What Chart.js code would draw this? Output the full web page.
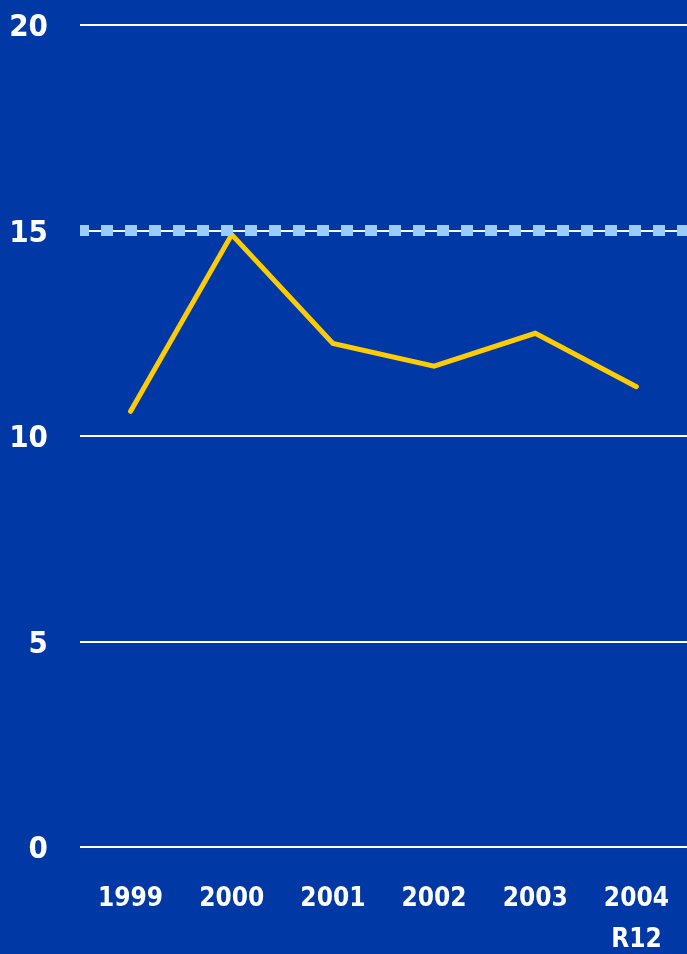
<!DOCTYPE html>
<html>
<head>
<meta charset="utf-8">
<script src="https://cdn.jsdelivr.net/npm/chart.js@4/dist/chart.umd.min.js"></script>
<style>
  html, body { margin: 0; padding: 0; background: #0039a6; }
  canvas { display: block; }
</style>
</head>
<body>
<canvas id="chart" width="687" height="954"></canvas>
<script>
// data
const years = ['1999', '2000', '2001', '2002', '2003', '2004'];
const subLabels = ['', '', '', '', '', 'R12'];
const values = [10.6, 14.9, 12.25, 11.7, 12.5, 11.2];
const targetValue = 15;
const yTicks = [0, 5, 10, 15, 20];

const labels = years.map((y, i) => subLabels[i] ? [y, subLabels[i]] : y);
const fontFamily = '"DejaVu Sans Condensed", "Liberation Sans Narrow", "Liberation Sans", Arial';

const ctx = document.getElementById('chart').getContext('2d');

new Chart(ctx, {
  type: 'line',
  data: {
    labels: labels,
    datasets: [
      {
        // target line, spans the whole plot width on its own hidden axis
        label: 'Target',
        data: [targetValue, targetValue],
        xAxisID: 'x2',
        borderColor: '#99ccff',
        borderWidth: 11,
        borderDash: [12, 12],
        borderDashOffset: 3,
        borderCapStyle: 'butt',
        pointRadius: 0,
        fill: false,
      },
      {
        label: 'Value',
        data: values,
        xAxisID: 'x',
        borderColor: '#ffcc00',
        borderWidth: 5,
        borderCapStyle: 'round',
        borderJoinStyle: 'miter',
        pointRadius: 0,
        tension: 0,
        fill: false,
      },
    ],
  },
  options: {
    responsive: false,
    devicePixelRatio: 1,
    animation: false,
    layout: { padding: { top: 25, right: 0, bottom: 0, left: 0 } },
    plugins: { legend: { display: false }, tooltip: { enabled: false } },
    scales: {
      x: {
        type: 'category',
        offset: true,
        grid: { display: false, drawTicks: false },
        border: { display: false },
        ticks: {
          color: '#ffffff',
          font: { family: fontFamily, size: 26, weight: 'bold', lineHeight: 1.6 },
          padding: 31,
          maxRotation: 0,
          autoSkip: false,
        },
        afterFit: (axis) => {
          axis.height = 107;
          axis.paddingLeft = 0;
          axis.paddingRight = 0;
        },
      },
      x2: {
        type: 'category',
        labels: ['a', 'b'],
        offset: false,
        display: false,
      },
      y: {
        min: 0,
        max: 20,
        afterBuildTicks: (axis) => { axis.ticks = yTicks.map(v => ({ value: v })); },
        grid: { color: '#ffffff', lineWidth: 2, drawTicks: false },
        border: { display: false },
        ticks: {
          color: '#ffffff',
          font: { family: fontFamily, size: 31, weight: 'bold' },
          padding: 32,
          labelOffset: 3,
        },
        afterFit: (axis) => {
          axis.width = 80;
          axis.paddingTop = 0;
          axis.paddingBottom = 0;
        },
      },
    },
  },
});
</script>
</body>
</html>
